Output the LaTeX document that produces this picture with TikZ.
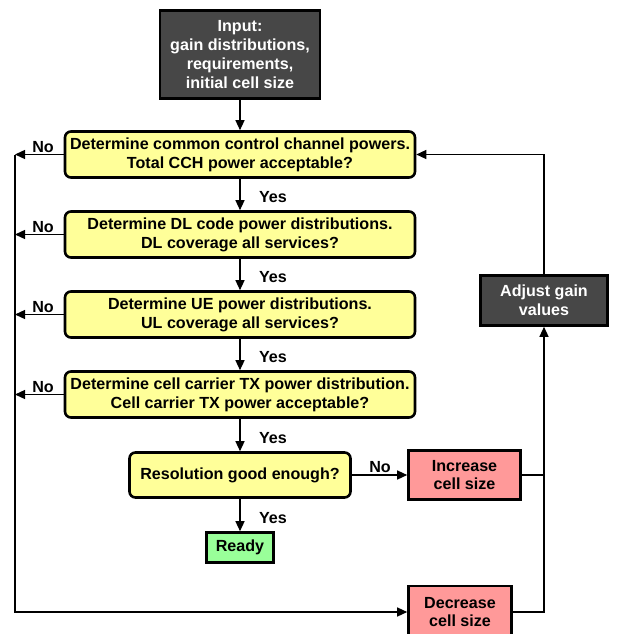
\documentclass[tikz,border=0pt]{standalone}
\usepackage{fontspec}
\setmainfont{Liberation Sans}
\usetikzlibrary{arrows.meta}
\definecolor{ylw}{HTML}{FFFF99}
\definecolor{gry}{HTML}{474747}
\definecolor{pnk}{HTML}{FF9999}
\definecolor{grn}{HTML}{99FF99}
\begin{document}
\begin{tikzpicture}[x=1pt,y=-1pt,
  font=\bfseries\fontsize{16.1}{18.8}\selectfont,
  box/.style={draw=black, line width=2.6pt, align=center, inner sep=0pt},
  ybox/.style={box, fill=ylw, rounded corners=6pt},
  gbox/.style={box, fill=gry, text=white},
  pbox/.style={box, fill=pnk},
  rbox/.style={box, fill=grn},
  ln/.style={line width=1.3pt},
  arr/.style={ln, -{Triangle[length=10pt,width=9pt]}},
  lbl/.style={inner sep=0pt}]
\useasboundingbox (0,0) rectangle (621,634);

\node[gbox, minimum width=160, minimum height=88] (in) at (240,54.5)
  {Input:\\gain distributions,\\requirements,\\initial cell size};
\node[ybox, minimum width=350, minimum height=46] (b1) at (240,154.5)
  {Determine common control channel powers.\\Total CCH power acceptable?};
\node[ybox, minimum width=350, minimum height=46] (b2) at (240,234.5)
  {Determine DL code power distributions.\\DL coverage all services?};
\node[ybox, minimum width=350, minimum height=46] (b3) at (240,314.5)
  {Determine UE power distributions.\\UL coverage all services?};
\node[ybox, minimum width=350, minimum height=46] (b4) at (240,394.5)
  {Determine cell carrier TX power distribution.\\Cell carrier TX power acceptable?};
\node[ybox, minimum width=221, minimum height=45] (res) at (240,475)
  {Resolution good enough?};
\node[rbox, minimum width=67, minimum height=30] (rdy) at (240,547.5) {Ready};
\node[pbox, minimum width=112, minimum height=49] (inc) at (464.5,475)
  {Increase\\cell size};
\node[pbox, minimum width=103, minimum height=52] (dec) at (460,612)
  {Decrease\\cell size};
\node[gbox, minimum width=127, minimum height=50] (adj) at (544,300.5)
  {Adjust gain\\values};

\coordinate (l1) at (15,154.5);
\coordinate (l2) at (15,234.5);
\coordinate (l3) at (15,314.5);
\coordinate (l4) at (15,394.5);
\coordinate (lb) at (15,612);

\draw[arr] (in) -- (b1);
\draw[arr] (b1) -- (b2);
\draw[arr] (b2) -- (b3);
\draw[arr] (b3) -- (b4);
\draw[arr] (b4) -- (res);
\draw[arr] (res) -- (rdy);
\draw[arr] (res) -- (inc);

\draw[arr] (b1.west) -- (l1);
\draw[arr] (b2.west) -- (l2);
\draw[arr] (b3.west) -- (l3);
\draw[arr] (b4.west) -- (l4);
\draw[arr] (l1) -- (lb) -- (dec.west);

\draw[arr] (dec.east) -| (adj.south);
\draw[ln] (inc.east) -- (inc.east -| adj.south);
\draw[arr] (adj.north) |- (b1.east);

\node[lbl] (y1) at (273,197) {Yes};
\node[lbl] (y2) at (273,277) {Yes};
\node[lbl] (y3) at (273,357) {Yes};
\node[lbl] (y4) at (273,438) {Yes};
\node[lbl] (y5) at (273,518) {Yes};
\node[lbl] (n1) at (43,147) {No};
\node[lbl] (n2) at (43,227) {No};
\node[lbl] (n3) at (43,307) {No};
\node[lbl] (n4) at (43,387) {No};
\node[lbl] (n5) at (380,467) {No};
\end{tikzpicture}
\end{document}
